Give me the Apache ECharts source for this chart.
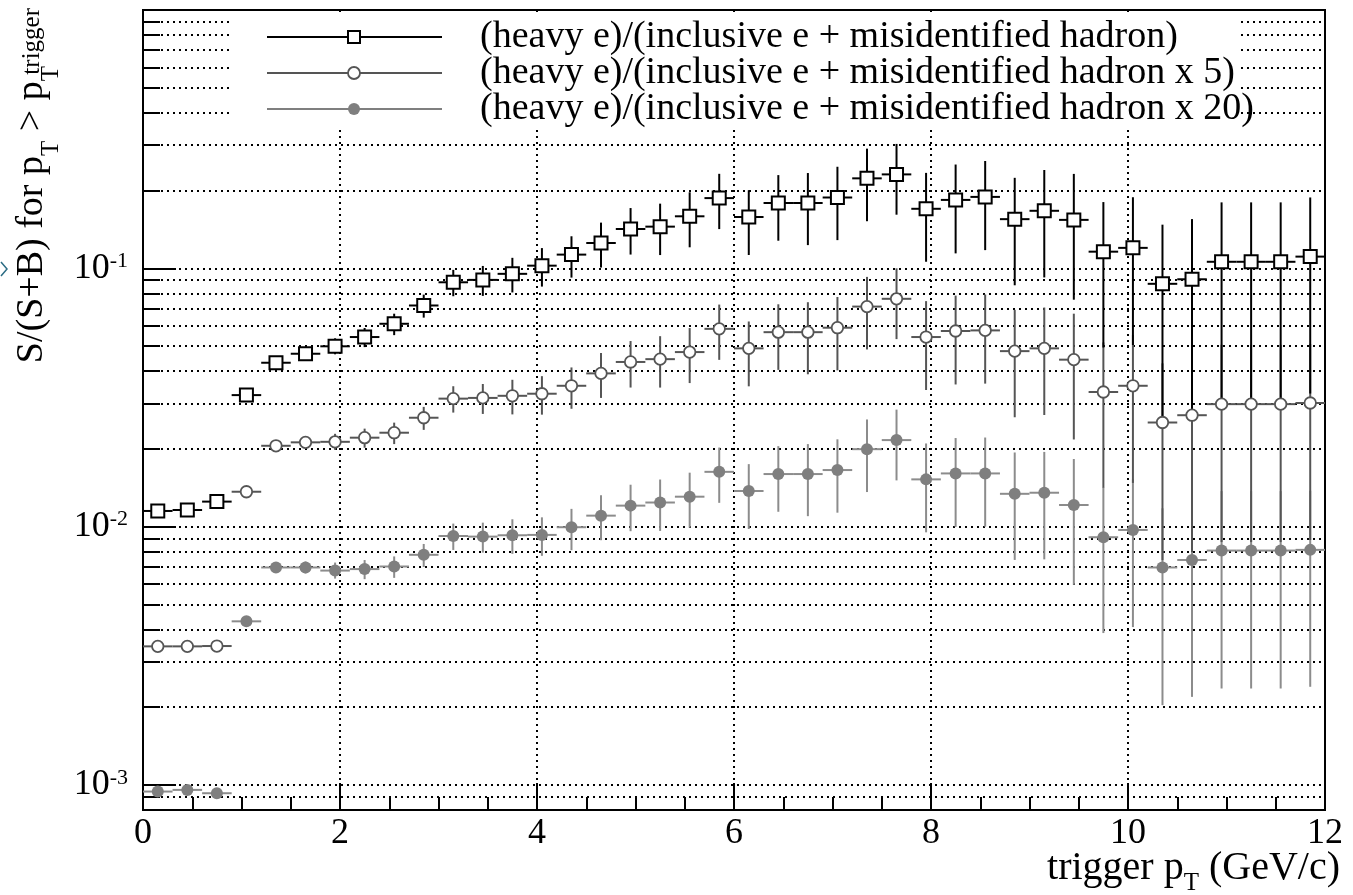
<!DOCTYPE html>
<html>
<head>
<meta charset="utf-8">
<script src="https://cdn.jsdelivr.net/npm/echarts@6/dist/echarts.min.js"></script>
<style>
  html, body { margin: 0; padding: 0; background: #fff; }
  #chart { width: 1353px; height: 895px; }
</style>
</head>
<body>
<div id="chart"></div>
<script>
// trigger pT bins (GeV/c), 0.3 wide
const binCenters = [0.15, 0.45, 0.75, 1.05, 1.35, 1.65, 1.95, 2.25, 2.55, 2.85,
  3.15, 3.45, 3.75, 4.05, 4.35, 4.65, 4.95, 5.25, 5.55, 5.85,
  6.15, 6.45, 6.75, 7.05, 7.35, 7.65, 7.95, 8.25, 8.55, 8.85,
  9.15, 9.45, 9.75, 10.05, 10.35, 10.65, 10.95, 11.25, 11.55, 11.85]
const binHalfWidth = 0.15

// S/(S+B) for the three background assumptions
const heavyE = [0.0115, 0.0116, 0.0125, 0.0323, 0.0431, 0.0467, 0.0499, 0.0542, 0.0610, 0.0718,
  0.0883, 0.0902, 0.0952, 0.1024, 0.113, 0.1253, 0.142, 0.145, 0.159, 0.187,
  0.158, 0.179, 0.179, 0.188, 0.223, 0.231, 0.170, 0.184, 0.189, 0.155,
  0.167, 0.154, 0.116, 0.120, 0.0871, 0.0907, 0.106, 0.106, 0.106, 0.111]
const heavyEx5 = [0.00344, 0.00344, 0.00345, 0.01365, 0.02056, 0.0212, 0.0213, 0.0221, 0.0231, 0.0264,
  0.0313, 0.0315, 0.0321, 0.0327, 0.0351, 0.0392, 0.0434, 0.0445, 0.0474, 0.0583,
  0.0490, 0.0566, 0.0566, 0.0589, 0.0711, 0.0762, 0.0542, 0.0572, 0.0575, 0.0478,
  0.0490, 0.0443, 0.0332, 0.0351, 0.0253, 0.0270, 0.0298, 0.0298, 0.0298, 0.0301]
const heavyEx20 = [0.000943, 0.000957, 0.000929, 0.0043, 0.00695, 0.00695, 0.00676, 0.00685, 0.00701, 0.00778,
  0.0092, 0.00915, 0.00926, 0.00929, 0.00995, 0.01103, 0.01206, 0.0124, 0.01306, 0.0163,
  0.01374, 0.01598, 0.01598, 0.01656, 0.01995, 0.02163, 0.01524, 0.01607, 0.01607, 0.0134,
  0.01353, 0.01213, 0.0091, 0.00971, 0.00695, 0.00743, 0.00808, 0.00808, 0.00808, 0.00813]

// error bar sizes in decades (same relative error for all three curves)
const errUp = [0.004, 0.004, 0.006, 0.008, 0.015, 0.023, 0.031, 0.035, 0.039, 0.042,
  0.048, 0.054, 0.062, 0.068, 0.071, 0.079, 0.081, 0.089, 0.093, 0.094,
  0.104, 0.108, 0.116, 0.119, 0.115, 0.118, 0.139, 0.137, 0.139, 0.16,
  0.158, 0.178, 0.192, 0.196, 0.229, 0.233, 0.23, 0.23, 0.23, 0.229]
const errDown = [0.004, 0.004, 0.006, 0.008, 0.015, 0.023, 0.031, 0.039, 0.044, 0.047,
  0.054, 0.062, 0.072, 0.081, 0.089, 0.095, 0.099, 0.11, 0.12, 0.12,
  0.147, 0.146, 0.163, 0.165, 0.166, 0.156, 0.205, 0.207, 0.206, 0.256,
  0.258, 0.309, 0.371, 0.376, 0.533, 0.53, 0.534, 0.534, 0.534, 0.53]

const yMajorTicks = [0.001, 0.01, 0.1]
const yMinorTicks = [0.0009, 0.002, 0.003, 0.004, 0.005, 0.006, 0.007, 0.008, 0.009,
  0.02, 0.03, 0.04, 0.05, 0.06, 0.07, 0.08, 0.09,
  0.2, 0.3, 0.4, 0.5, 0.6, 0.7, 0.8, 0.9]

const seriesNames = [
  '(heavy e)/(inclusive e + misidentified hadron)',
  '(heavy e)/(inclusive e + misidentified hadron x 5)',
  '(heavy e)/(inclusive e + misidentified hadron x 20)'
]

const FONT = 'Liberation Serif'
const C_SQ = '#000000'
const C_CI = '#555555'
const C_DOT = '#7f7f7f'
const C_DOT_BAR = '#8c8c8c'

function errorData(values) {
  return values.map((v, i) => [binCenters[i], v, v / Math.pow(10, errDown[i]), v * Math.pow(10, errUp[i])])
}

function errorSeries(name, values, color) {
  return {
    name,
    type: 'custom',
    data: errorData(values),
    encode: { x: 0, y: [1, 2, 3] },
    clip: true,
    z: 2,
    renderItem(params, api) {
      const x = api.value(0)
      const y = api.value(1)
      const c = api.coord([x, y])
      const lo = api.coord([x, api.value(2)])
      const hi = api.coord([x, api.value(3)])
      const l = api.coord([x - binHalfWidth, y])
      const r = api.coord([x + binHalfWidth, y])
      const st = { stroke: color, lineWidth: 2 }
      return {
        type: 'group',
        children: [
          { type: 'line', shape: { x1: c[0], y1: lo[1], x2: c[0], y2: hi[1] }, style: st },
          { type: 'line', shape: { x1: l[0], y1: c[1], x2: r[0], y2: c[1] }, style: st }
        ]
      }
    }
  }
}

function markerSeries(name, values, symbol, size, fill, stroke, bw) {
  return {
    name,
    type: 'scatter',
    data: values.map((v, i) => [binCenters[i], v]),
    symbol,
    symbolSize: size,
    z: 3,
    itemStyle: { color: fill, borderColor: stroke, borderWidth: bw, opacity: 1 }
  }
}

// legend drawn in ROOT style
const legendY = [37, 73, 109]
const legendLine = [267, 442]
const legendMarkX = 354
function legendGraphics() {
  const g = [{ type: 'rect', z: 50, shape: { x: 229, y: 12, width: 1008, height: 118 }, style: { fill: '#fff' } }]
  const cols = [C_SQ, C_CI, C_DOT]
  legendY.forEach((y, i) => {
    g.push({ type: 'line', z: 51, shape: { x1: legendLine[0], y1: y, x2: legendLine[1], y2: y }, style: { stroke: cols[i], lineWidth: 2 } })
    if (i === 0) {
      g.push({ type: 'rect', z: 52, shape: { x: legendMarkX - 6, y: y - 6, width: 12, height: 12 }, style: { fill: '#fff', stroke: C_SQ, lineWidth: 2 } })
    } else if (i === 1) {
      g.push({ type: 'circle', z: 52, shape: { cx: legendMarkX, cy: y, r: 6 }, style: { fill: '#fff', stroke: C_CI, lineWidth: 1.8 } })
    } else {
      g.push({ type: 'circle', z: 52, shape: { cx: legendMarkX, cy: y, r: 6 }, style: { fill: C_DOT } })
    }
    g.push({ type: 'text', z: 52, x: 480, y: y, style: { text: seriesNames[i], fontFamily: FONT, fontSize: 38, fill: '#000', verticalAlign: 'middle' } })
  })
  return g
}

const chart = echarts.init(document.getElementById('chart'), null, { renderer: 'canvas' })

const dotted = { color: '#000', width: 2, type: [2, 4] }

chart.setOption({
  animation: false,
  backgroundColor: '#fff',
  grid: { left: 143, right: 28, top: 10, bottom: 85, show: true, borderColor: '#000', borderWidth: 2, backgroundColor: 'transparent' },
  xAxis: {
    type: 'value', min: 0, max: 12, interval: 2,
    axisLine: { show: false },
    axisTick: { show: true, inside: true, length: 27, lineStyle: { color: '#000', width: 2 } },
    minorTick: { show: true, splitNumber: 4, length: 13, lineStyle: { color: '#000', width: 2 } },
    axisLabel: { fontFamily: FONT, fontSize: 36, color: '#000', margin: 6 },
    splitLine: { show: true, lineStyle: dotted }
  },
  yAxis: [{
    type: 'log', logBase: 10, min: 0.0008, max: 1,
    axisLine: { show: false },
    axisTick: { show: true, inside: true, length: 17, customValues: yMinorTicks.concat(yMajorTicks), lineStyle: { color: '#000', width: 2 } },
    axisLabel: { show: false },
    splitLine: { show: true, lineStyle: dotted },
    minorTick: { show: false },
    minorSplitLine: { show: false }
  }, {
    type: 'log', logBase: 10, min: 0.0008, max: 1, position: 'left', offset: 0,
    axisLine: { show: false },
    axisTick: { show: true, inside: true, length: 33, customValues: yMajorTicks, lineStyle: { color: '#000', width: 2 } },
    axisLabel: {
      customValues: yMajorTicks,
      margin: 15,
      formatter: v => '{b|10}{s|' + Math.round(Math.log10(v)) + '}',
      rich: {
        b: { fontFamily: FONT, fontSize: 36, color: '#000' },
        s: { fontFamily: FONT, fontSize: 22, color: '#000', verticalAlign: 'top' }
      }
    },
    splitLine: { show: false }
  }],
  series: [
    errorSeries(seriesNames[2] + ' err', heavyEx20, C_DOT_BAR),
    errorSeries(seriesNames[1] + ' err', heavyEx5, C_CI),
    errorSeries(seriesNames[0] + ' err', heavyE, C_SQ),
    markerSeries(seriesNames[2], heavyEx20, 'circle', 12, C_DOT, C_DOT, 0),
    markerSeries(seriesNames[1], heavyEx5, 'circle', 11.5, '#fff', C_CI, 1.8),
    markerSeries(seriesNames[0], heavyE, 'rect', 13, '#fff', C_SQ, 2)
  ],
  graphic: legendGraphics().concat([
    {
      type: 'text', z: 60, x: 1340, y: 841,
      style: {
        text: 'trigger p{sub|T} (GeV/c)', align: 'right', verticalAlign: 'top',
        fontFamily: FONT, fontSize: 40, fill: '#000',
        rich: { sub: { fontFamily: FONT, fontSize: 25, fill: '#000', padding: [30, 0, 0, 0], verticalAlign: 'bottom' } }
      }
    },
    {
      type: 'text', z: 60, x: 64, y: 66, rotation: Math.PI / 2,
      style: {
        text: 'S/(S+B) for p{sub|T} > p{sub|T}', align: 'right', verticalAlign: 'bottom',
        fontFamily: FONT, fontSize: 38, fill: '#000',
        rich: { sub: { fontFamily: FONT, fontSize: 25, fill: '#000', padding: [38, 0, 0, 0], verticalAlign: 'bottom' } }
      }
    },
    {
      type: 'text', z: 60, x: 32, y: 8, rotation: Math.PI / 2,
      style: { text: 'trigger', align: 'right', verticalAlign: 'middle', fontFamily: FONT, fontSize: 25, fill: '#000' }
    },
    {
      type: 'polyline', z: 60,
      shape: { points: [[1, 262], [7, 269], [1, 276]] },
      style: { stroke: '#2b6c84', lineWidth: 1.5, fill: null }
    }
  ])
})
</script>
</body>
</html>
